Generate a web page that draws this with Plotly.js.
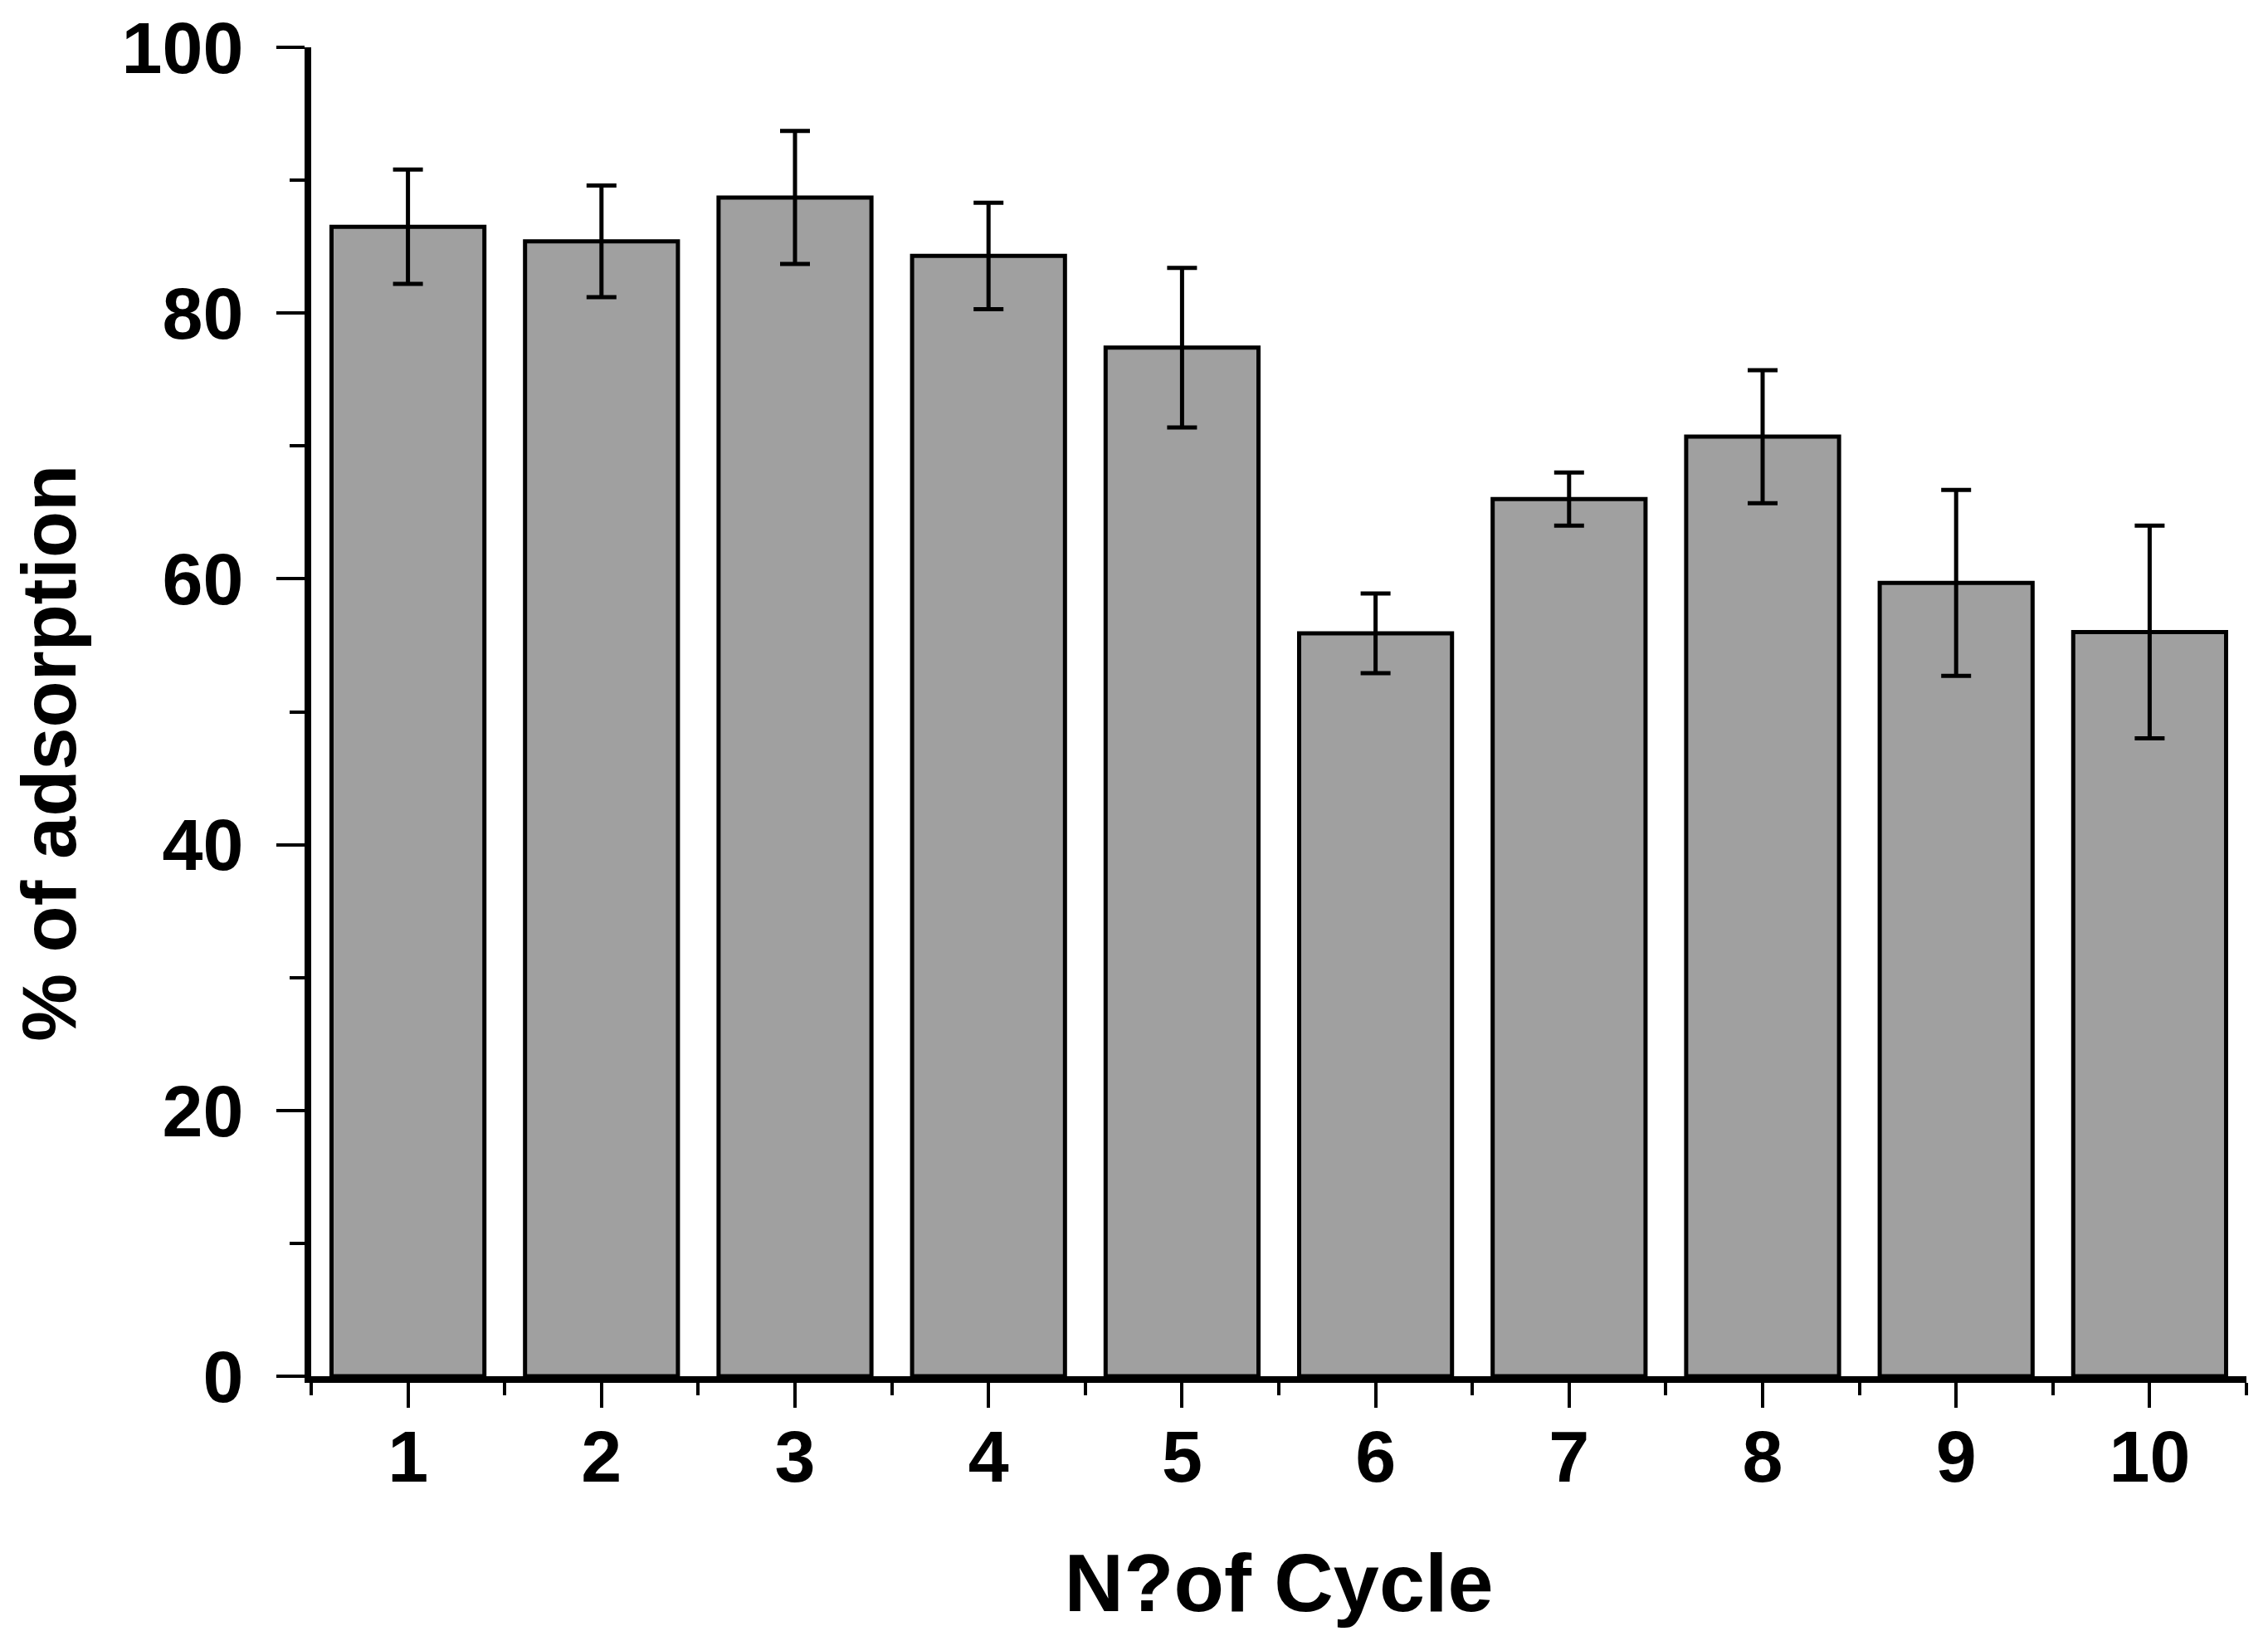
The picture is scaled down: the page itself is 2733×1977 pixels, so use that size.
<!DOCTYPE html>
<html>
<head>
<meta charset="utf-8">
<script src="https://cdn.plot.ly/plotly-3.0.1.min.js"></script>
<style>
  html, body { margin: 0; padding: 0; background: #fff; }
  #graph { width: 2733px; height: 1977px; }
</style>
</head>
<body>
<div id="graph"></div>
<script>
// cycle number and % of adsorption
var cycles = [1, 2, 3, 4, 5, 6, 7, 8, 9, 10];
var adsorption = [86.5, 85.4, 88.7, 84.3, 77.4, 55.9, 66.0, 70.7, 59.7, 56.0];
var errors = [4.3, 4.2, 5.0, 4.0, 6.0, 3.0, 2.0, 5.0, 7.0, 8.0];
var yTicks = [0, 20, 40, 60, 80, 100];

var fontFamily = '"Liberation Sans", Arial, sans-serif';

var trace = {
    x: cycles,
    y: adsorption,
    type: 'bar',
    marker: {
        color: '#a0a0a0',
        line: { color: '#000000', width: 5 }
    },
    error_y: {
        type: 'data',
        array: errors,
        visible: true,
        color: '#000000',
        thickness: 5,
        width: 18
    },
    hoverinfo: 'x+y'
};

var layout = {
    width: 2733,
    height: 1977,
    margin: { l: 375, r: 26, t: 57, b: 319 },
    paper_bgcolor: '#ffffff',
    plot_bgcolor: '#ffffff',
    bargap: 0.21,
    showlegend: false,
    font: { family: fontFamily, size: 88, color: '#000000', weight: 'bold' },
    xaxis: {
        range: [0.5, 10.5],
        tickmode: 'array',
        tickvals: cycles,
        ticktext: cycles.map(String),
        ticks: 'outside',
        ticklen: 30,
        tickwidth: 4,
        tickcolor: '#000000',
        minor: { tick0: 0.5, dtick: 1, ticks: 'outside', ticklen: 15, tickwidth: 4, tickcolor: '#000000' },
        showline: true,
        linecolor: '#000000',
        linewidth: 8,
        showgrid: false,
        zeroline: false,
        ticklabelstandoff: -17,
        tickfont: { family: fontFamily, size: 88, color: '#000000', weight: 'bold' },
        title: {
            text: 'N?of Cycle',
            font: { family: fontFamily, size: 99, color: '#000000', weight: 'bold' },
            standoff: 72
        },
        automargin: false
    },
    yaxis: {
        range: [0, 100],
        tickmode: 'array',
        tickvals: yTicks,
        ticktext: yTicks.map(String),
        ticks: 'outside',
        ticklen: 34,
        tickwidth: 4,
        tickcolor: '#000000',
        minor: { tick0: 10, dtick: 20, ticks: 'outside', ticklen: 18, tickwidth: 4, tickcolor: '#000000' },
        showline: true,
        linecolor: '#000000',
        linewidth: 8,
        showgrid: false,
        zeroline: false,
        ticklabelstandoff: 22,
        tickfont: { family: fontFamily, size: 88, color: '#000000', weight: 'bold' },
        automargin: false
    },
    annotations: [{
        // y-axis title, sits a little below the axis middle in the original
        text: '% of adsorption',
        textangle: -90,
        xref: 'paper',
        yref: 'paper',
        x: 0,
        y: 0.4686,
        xanchor: 'center',
        yanchor: 'middle',
        xshift: -316,
        showarrow: false,
        font: { family: fontFamily, size: 92, color: '#000000', weight: 'bold' }
    }]
};

Plotly.newPlot('graph', [trace], layout, { displayModeBar: false, staticPlot: true });
</script>
</body>
</html>
